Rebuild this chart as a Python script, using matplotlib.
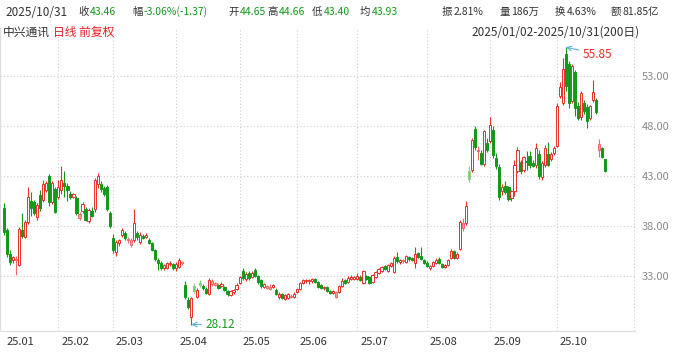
import numpy as np
import matplotlib
matplotlib.use('Agg')
import matplotlib.pyplot as plt
from matplotlib.transforms import ScaledTranslation

plt.rcParams['font.family'] = ['Noto Sans CJK SC', 'DejaVu Sans']

# daily OHLC, 2025/01/02 - 2025/10/31 (200 trading days)
opens = [
    # Jan
    39.8, 37.6, 35.2, 34.6, 34.6, 34.1, 37.6, 36.9, 38.4, 40.5, 40.4, 38.9, 41.1, 40.6, 41.6, 43.0, 40.4, 41.7,
    # Feb
    40.9, 41.6, 42.3, 42.0, 41.2, 40.9, 40.8, 38.8, 39.5, 39.7, 38.5, 39.5, 39.7, 42.2, 42.2, 41.8, 41.9, 39.3,
    # Mar
    36.8, 35.4, 36.3, 37.1, 37.3, 36.6, 36.1, 36.6, 37.3, 36.4, 37.0, 36.9, 36.6, 36.3, 35.6, 34.6, 34.3, 33.8, 33.8, 34.2, 34.2,
    # Apr
    33.8, 33.9, 34.3, 32.1, 30.6, 28.9, 32.0, 30.9, 32.3, 32.0, 31.7, 31.2, 32.2, 32.1, 32.1, 32.0, 31.9, 31.5, 31.1, 31.4, 31.7,
    # May
    32.3, 33.5, 32.7, 33.3, 32.9, 33.6, 33.0, 32.6, 31.9, 31.8, 31.7, 31.9, 31.6, 30.9, 31.2, 30.7, 30.8, 30.9, 30.9,
    # Jun
    31.4, 31.7, 32.3, 32.5, 32.5, 32.5, 32.7, 32.4, 32.1, 31.8, 31.9, 31.5, 31.3, 30.9, 31.4, 32.0, 32.6, 32.4, 32.7, 32.7,
    # Jul
    32.7, 32.9, 32.3, 33.0, 32.9, 32.4, 32.9, 33.3, 33.5, 34.0, 33.5, 34.0, 33.4, 34.9, 34.4, 34.5, 34.4, 34.9, 34.8, 34.3, 35.3, 35.0, 34.6,
    # Aug
    34.3, 33.8, 34.0, 34.3, 34.7, 34.2, 33.9, 34.1, 34.8, 35.5, 34.8, 35.7, 37.8, 38.3, 43.5, 43.6, 47.7, 45.5, 45.3, 44.2, 46.3,
    # Sep
    46.5, 47.6, 44.8, 43.9, 41.5, 42.0, 41.9, 40.8, 41.5, 43.5, 44.4, 43.6, 44.5, 45.0, 44.3, 44.1, 45.2, 42.9, 44.1, 45.2, 44.7, 45.3,
    # Oct
    46.0, 51.0, 50.3, 55.2, 54.2, 50.5, 53.4, 50.0, 48.9, 50.3, 49.9, 48.8, 50.6, 50.6, 45.6, 45.8, 44.65,
]
highs = [
    40.3, 37.8, 35.6, 35.0, 35.0, 37.9, 39.3, 38.6, 41.9, 41.4, 40.6, 40.3, 41.6, 42.6, 42.5, 43.2, 42.5, 41.9,
    42.6, 44.0, 43.5, 42.3, 41.5, 41.3, 41.0, 39.4, 40.4, 39.9, 39.8, 39.9, 42.8, 43.3, 42.5, 42.0, 42.1, 39.5,
    37.2, 36.6, 36.7, 37.8, 37.5, 36.9, 36.8, 39.7, 37.5, 37.4, 37.2, 37.3, 36.8, 36.4, 35.7, 34.8, 34.5, 34.2, 34.4, 34.5, 34.3,
    34.4, 34.8, 34.5, 32.5, 30.9, 30.9, 32.3, 31.8, 32.6, 32.2, 31.9, 32.8, 32.7, 32.4, 32.2, 32.4, 32.0, 31.6, 31.6, 31.7, 32.3,
    33.0, 33.8, 33.4, 33.5, 33.5, 33.8, 33.1, 32.7, 32.3, 32.1, 32.2, 32.2, 31.8, 31.4, 31.3, 31.2, 31.3, 31.2, 31.4,
    31.8, 32.4, 32.7, 32.7, 32.7, 32.8, 32.8, 32.5, 32.2, 32.0, 32.0, 31.6, 31.6, 31.5, 32.1, 32.8, 32.7, 33.0, 33.1, 33.0,
    33.3, 33.1, 33.6, 33.1, 33.0, 33.2, 33.5, 33.8, 34.0, 34.1, 34.2, 34.4, 35.0, 35.4, 34.7, 34.7, 35.1, 35.0, 34.9, 35.9, 35.4, 35.9, 34.7,
    34.5, 34.1, 34.5, 34.8, 34.9, 34.3, 34.2, 34.7, 35.7, 35.6, 35.4, 38.6, 38.8, 40.5, 44.0, 46.8, 48.0, 46.0, 45.6, 47.6, 46.8,
    48.9, 48.0, 45.3, 44.2, 42.2, 42.5, 42.0, 41.6, 44.6, 45.9, 44.6, 45.0, 45.5, 45.5, 44.6, 46.3, 45.6, 44.5, 46.1, 46.4, 45.4, 46.0,
    50.3, 52.4, 54.8, 55.85, 54.5, 54.2, 53.6, 50.4, 51.5, 50.6, 50.2, 50.1, 52.6, 50.8, 46.7, 45.9, 44.66,
]
lows = [
    37.1, 34.9, 34.1, 34.3, 33.1, 34.0, 36.8, 36.8, 38.2, 39.0, 39.1, 38.6, 39.5, 40.4, 41.4, 40.0, 40.2, 39.3,
    40.7, 41.2, 40.9, 40.5, 40.7, 40.8, 39.1, 38.6, 39.3, 38.5, 38.3, 38.9, 39.4, 41.8, 41.4, 41.0, 39.5, 37.8,
    35.3, 35.0, 36.0, 36.9, 36.6, 36.3, 35.9, 36.4, 36.6, 36.2, 36.7, 36.8, 36.2, 35.5, 34.5, 33.6, 33.6, 33.6, 33.7, 34.0, 33.6,
    33.5, 33.8, 34.1, 30.7, 29.7, 28.12, 31.3, 30.8, 31.9, 31.6, 31.2, 31.1, 32.0, 32.0, 31.7, 31.9, 31.5, 31.0, 31.0, 31.2, 31.6,
    32.2, 32.6, 32.5, 32.6, 32.8, 32.9, 32.2, 31.8, 31.8, 31.7, 31.6, 31.8, 31.1, 30.7, 30.7, 30.6, 30.7, 30.8, 30.8,
    31.3, 31.6, 32.2, 32.3, 32.2, 32.3, 32.3, 31.8, 31.7, 31.6, 31.4, 31.2, 31.2, 30.8, 31.3, 31.9, 32.2, 32.3, 32.6, 32.6,
    32.6, 32.5, 32.2, 32.6, 32.2, 32.3, 32.8, 33.2, 33.4, 33.6, 33.4, 33.9, 33.3, 34.3, 34.2, 34.3, 34.3, 34.5, 34.5, 33.8, 34.8, 34.6, 34.2,
    33.9, 33.6, 33.9, 34.2, 34.2, 33.8, 33.8, 34.0, 34.7, 34.7, 34.7, 35.6, 37.5, 38.1, 42.4, 43.4, 45.6, 44.6, 44.1, 44.0, 45.4,
    46.3, 44.8, 43.7, 40.6, 41.1, 41.2, 40.5, 40.5, 41.0, 43.3, 43.2, 43.4, 43.6, 43.8, 43.9, 43.8, 42.7, 42.6, 43.9, 44.0, 44.5, 45.1,
    45.9, 50.8, 50.1, 51.5, 49.8, 50.3, 49.0, 48.6, 48.6, 49.2, 47.8, 48.6, 50.4, 49.2, 44.9, 44.8, 43.40,
]
closes = [
    37.4, 35.2, 34.4, 34.9, 34.7, 37.7, 37.0, 38.4, 40.9, 39.8, 39.3, 40.1, 39.8, 42.2, 42.3, 40.4, 42.3, 39.4,
    41.9, 42.6, 42.0, 41.6, 40.9, 41.2, 39.3, 39.2, 40.2, 38.6, 39.6, 39.0, 42.6, 43.0, 41.7, 41.2, 39.7, 38.0,
    35.6, 36.4, 36.6, 37.6, 36.8, 36.7, 36.6, 38.3, 36.9, 37.1, 36.8, 37.1, 36.3, 35.6, 34.7, 34.3, 33.8, 34.1, 34.3, 34.3, 33.8,
    34.2, 34.6, 34.4, 30.9, 29.9, 30.8, 31.5, 31.6, 32.1, 31.8, 31.3, 32.6, 32.5, 32.3, 31.8, 32.2, 31.6, 31.2, 31.5, 31.6, 32.1,
    32.9, 32.8, 33.2, 32.8, 33.3, 33.0, 32.4, 32.0, 32.2, 32.0, 31.9, 32.1, 31.2, 31.2, 30.8, 31.1, 31.2, 31.0, 31.2,
    31.7, 32.3, 32.6, 32.6, 32.6, 32.7, 32.4, 31.9, 31.8, 31.9, 31.5, 31.3, 31.5, 31.4, 32.0, 32.5, 32.3, 32.8, 32.9, 32.9,
    33.0, 32.6, 33.5, 32.7, 32.3, 33.1, 33.4, 33.7, 33.9, 33.7, 34.1, 34.3, 34.8, 34.5, 34.6, 34.5, 35.0, 34.7, 34.6, 35.2, 34.9, 34.7, 34.3,
    34.0, 34.0, 34.4, 34.6, 34.3, 33.9, 34.1, 34.6, 35.5, 34.8, 35.2, 38.4, 38.3, 40.0, 42.7, 46.6, 45.9, 45.6, 44.2, 47.5, 45.6,
    48.1, 45.1, 44.0, 40.9, 41.9, 41.4, 40.7, 41.5, 44.1, 45.6, 43.5, 44.9, 44.4, 44.1, 44.0, 45.8, 43.0, 44.3, 45.8, 44.1, 45.2, 45.8,
    50.0, 51.9, 53.7, 52.0, 50.3, 54.0, 49.8, 48.8, 51.3, 49.5, 48.5, 50.0, 51.4, 49.4, 46.2, 44.83, 43.46,
]

month_starts = [0, 18, 36, 57, 78, 97, 117, 140, 161, 183]
month_labels = ['25.01', '25.02', '25.03', '25.04', '25.05', '25.06', '25.07', '25.08', '25.09', '25.10']
price_ticks = [33, 38, 43, 48, 53]

RED = '#e8302a'
GREEN = '#14981a'
n = len(closes)
x = np.arange(n)

fig = plt.figure(figsize=(6.9, 3.52), dpi=100)
ax = fig.add_axes([0, 21 / 352, 635 / 690, 303 / 352])

# candle colours: hollow red up, solid green down, faded when against prev close
faces, edges = [], []
for i in range(n):
    o, c = opens[i], closes[i]
    prev = closes[i - 1] if i > 0 else o
    if c >= o:
        if c >= prev:
            faces.append('white'); edges.append(RED)
        else:
            faces.append('#f6a3a3'); edges.append('#f06a6a')
    else:
        if c <= prev:
            faces.append(GREEN); edges.append(GREEN)
        else:
            faces.append('#86cc86'); edges.append('#86cc86')

ax.vlines(x, lows, highs, colors=edges, lw=0.8, zorder=2)
bottoms = np.minimum(opens, closes)
heights = np.maximum(np.abs(np.array(closes) - np.array(opens)), 0.05)
ax.bar(x, heights, bottom=bottoms, width=0.72, color=faces, edgecolor=edges,
       linewidth=0.7, zorder=3)

ax.set_xlim(-1.32, 208.9)
ax.set_ylim(27.47, 57.77)

# grid
grid_kw = dict(color='#cfcfcf', lw=0.8, ls=(0, (1, 2)), zorder=0)
for p in price_ticks:
    ax.axhline(p, **grid_kw)
for m in month_starts[1:]:
    ax.axvline(m, **grid_kw)
ax.axvline(208.7, **grid_kw)

ax.yaxis.tick_right()
ax.set_yticks(price_ticks)
ax.set_yticklabels(['%.2f' % p for p in price_ticks])
ax.tick_params(axis='y', length=0, pad=5, labelsize=8, labelcolor='#8a8a8a')

ax.set_xticks(month_starts)
ax.set_xticklabels(month_labels)
ax.tick_params(axis='x', length=0, pad=4, labelsize=8, labelcolor='#333333')
for lbl in ax.get_xticklabels():
    lbl.set_horizontalalignment('left')
    lbl.set_transform(lbl.get_transform() + ScaledTranslation(3 / 100, 0, fig.dpi_scale_trans))

for s in ['top', 'right']:
    ax.spines[s].set_visible(False)
ax.spines['left'].set_color('#dddddd')
ax.spines['bottom'].set_color('#dddddd')

# high / low markers
imax = int(np.argmax(highs))
imin = int(np.argmin(lows))
ax.annotate('%.2f' % highs[imax], xy=(imax, highs[imax]), xytext=(17, -7),
            textcoords='offset pixels', color=RED, fontsize=8.5, va='center', ha='left',
            arrowprops=dict(arrowstyle='->', color='#5ab4d6', lw=0.8, shrinkA=1, shrinkB=0))
ax.annotate('%.2f' % lows[imin], xy=(imin, lows[imin]), xytext=(14, 0),
            textcoords='offset pixels', color=GREEN, fontsize=8.5, va='center', ha='left',
            arrowprops=dict(arrowstyle='->', color='#5ab4d6', lw=0.8, shrinkA=1, shrinkB=0))

# header rows
def px(xp, yp):
    return xp / 690, 1 - yp / 352

DARK = '#333333'
header = [
    (78, '收', '43.46', GREEN),
    (132, '幅', '-3.06%(-1.37)', GREEN),
    (228, '开', '44.65', GREEN),
    (267, '高', '44.66', GREEN),
    (312, '低', '43.40', GREEN),
    (360, '均', '43.93', GREEN),
    (442, '振', '2.81%', DARK),
    (500, '量', '186万', DARK),
    (555, '换', '4.63%', DARK),
    (611, '额', '81.85亿', DARK),
]
fig.text(*px(5, 12), '2025/10/31', color=DARK, fontsize=8.5, va='center', ha='left')
for xp, lab, val, col in header:
    fig.text(*px(xp, 12), lab, color=DARK, fontsize=7.5, va='center', ha='left')
    fig.text(*px(xp + 11.5, 12), val, color=col, fontsize=7.5, va='center', ha='left')

fig.text(*px(3, 32), '中兴通讯', color=DARK, fontsize=8.5, va='center', ha='left')
fig.text(*px(53, 32), '日线 前复权', color='#e62020', fontsize=8.5, va='center', ha='left')
fig.text(*px(640, 32), '2025/01/02-2025/10/31(200日)', color=DARK, fontsize=8.5,
         va='center', ha='right')

plt.savefig('out.png', dpi=100)
